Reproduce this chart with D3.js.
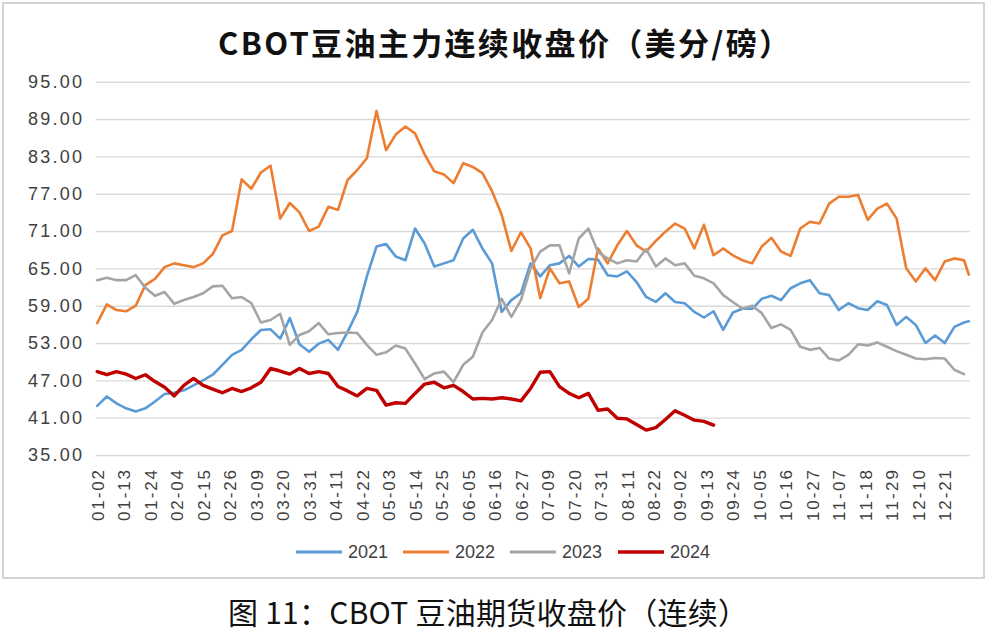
<!DOCTYPE html>
<html><head><meta charset="utf-8">
<script src="https://cdn.jsdelivr.net/npm/d3@7/dist/d3.min.js"></script>
<style>html,body{margin:0;padding:0;background:#fff;} svg{display:block;}</style>
</head><body>
<svg id="chart" width="992" height="640"></svg>
<script>
// ---------- data ----------
const titleText = "CBOT豆油主力连续收盘价（美分/磅）";
const captionText = "图 11：CBOT 豆油期货收盘价（连续）";
const seriesNames = ["2021", "2022", "2023", "2024"];
const seriesColors = ["#5B9BD5", "#ED7D31", "#A5A5A5", "#C00000"];
const yTicks = [35, 41, 47, 53, 59, 65, 71, 77, 83, 89, 95];
const skippedDay = "07-04";

// category axis: calendar days 01-02 .. 12-31 (07-04 not listed)
const categories = [];
for (let d = new Date(Date.UTC(2023, 0, 2)); d <= new Date(Date.UTC(2023, 11, 31)); d.setUTCDate(d.getUTCDate() + 1)) {
  const s = String(d.getUTCMonth() + 1).padStart(2, "0") + "-" + String(d.getUTCDate()).padStart(2, "0");
  if (s !== skippedDay) categories.push(s);
}
const tickLabels = categories.filter((d, i) => i % 11 === 0);
const sampleDates = categories.filter((d, i) => i % 4 === 0).concat([categories[categories.length - 1]]);

const values2021 = [42.9,44.4,43.3,42.5,42.0,42.5,43.6,44.8,45.0,45.4,
  46.2,47.0,47.9,49.5,51.1,51.9,53.6,55.1,55.2,53.7,
  57.0,52.8,51.6,52.9,53.5,51.9,54.8,58.0,63.7,68.5,
  68.9,66.9,66.3,71.4,69.0,65.3,65.8,66.3,69.8,71.2,
  68.2,65.8,58.0,59.9,61.0,65.8,63.7,65.5,65.8,67.0,
  65.3,66.5,66.4,63.9,63.7,64.5,62.8,60.4,59.6,61.0,
  59.6,59.4,58.0,57.1,58.1,55.1,57.9,58.5,58.5,60.1,
  60.6,59.9,61.8,62.6,63.1,61.0,60.7,58.3,59.4,58.6,
  58.3,59.7,59.1,55.9,57.2,55.9,53.0,54.2,53.0,55.6,
  56.3,56.5];
const values2022 = [56.2,59.2,58.3,58.1,59.0,62.3,63.3,65.2,65.8,65.5,
  65.2,65.8,67.3,70.3,71.0,79.3,77.8,80.4,81.5,73.0,
  75.5,74.0,71.0,71.7,74.9,74.4,79.2,80.8,82.7,90.3,
  84.0,86.5,87.8,86.7,83.3,80.6,80.1,78.7,81.9,81.3,
  80.3,77.4,73.6,67.8,70.8,68.2,60.2,65.0,62.6,62.9,
  58.8,60.1,68.2,65.8,68.7,71.0,68.7,67.7,69.4,70.9,
  72.2,71.4,68.2,72.0,67.1,68.2,67.1,66.3,65.8,68.5,
  69.9,67.7,67.0,71.4,72.5,72.2,75.4,76.5,76.5,76.8,
  72.8,74.6,75.4,73.0,65.0,62.9,65.0,63.1,66.1,66.6,
  66.3,64.0];
const values2023 = [63.1,63.5,63.1,63.1,63.9,61.9,60.6,61.2,59.3,59.9,
  60.4,61.0,62.1,62.2,60.2,60.4,59.4,56.3,56.7,57.7,
  52.7,54.3,54.9,56.2,54.4,54.6,54.7,54.6,52.7,51.1,
  51.5,52.6,52.1,49.7,47.2,48.1,48.4,46.7,49.5,50.8,
  54.7,56.7,60.1,57.2,59.9,65.0,67.7,68.7,68.7,64.2,
  69.8,71.4,67.6,66.6,65.8,66.3,66.1,68.1,65.3,66.6,
  65.5,65.8,63.8,63.4,62.6,60.7,59.6,58.5,59.0,57.8,
  55.4,56.0,55.1,52.4,51.9,52.2,50.5,50.2,51.1,52.8,
  52.6,53.1,52.4,51.7,51.1,50.5,50.4,50.6,50.5,48.7,
  48.0];
const values2024 = [48.4,47.9,48.4,48.0,47.3,47.9,46.8,45.9,44.5,46.2,
  47.3,46.2,45.6,45.0,45.7,45.2,45.8,46.7,48.9,48.5,
  48.0,48.9,48.1,48.4,48.1,46.0,45.3,44.5,45.7,45.4,
  43.0,43.4,43.3,44.9,46.4,46.7,45.8,46.2,45.2,44.0,
  44.1,44.0,44.2,44.0,43.7,45.7,48.3,48.4,46.0,44.9,
  44.2,44.9,42.2,42.4,40.9,40.8,39.9,39.0,39.4,40.7,
  42.1,41.4,40.6,40.4,39.8];
const seriesValues = [values2021, values2022, values2023, values2024];
const seriesWidths = [2.6, 2.6, 2.6, 3.4];

// ---------- layout ----------
const svg = d3.select("#chart");
const plot = {left: 96, right: 970, top: 81.7, bottom: 455};

svg.append("rect").attr("x", 3).attr("y", 3).attr("width", 981).attr("height", 575)
  .attr("fill", "#fff").attr("stroke", "#d4d4d4").attr("stroke-width", 2);

const x = d3.scalePoint().domain(categories).range([plot.left, plot.right]).padding(0.5);
const y = d3.scaleLinear().domain([35, 95]).range([plot.bottom, plot.top]);

// gridlines + y labels
const yAxis = d3.axisLeft(y).tickValues(yTicks).tickSize(-(plot.right - plot.left)).tickFormat(d3.format(".2f")).tickPadding(14);
const gy = svg.append("g").attr("transform", `translate(${plot.left},0)`).call(yAxis);
gy.select(".domain").remove();
gy.selectAll(".tick line").attr("stroke", "#d9d9d9").attr("stroke-width", 1.4);
gy.selectAll(".tick text").attr("fill", "#404040").attr("font-family", "'Liberation Sans', Arial, sans-serif")
  .attr("font-size", 18).attr("textLength", 54).attr("lengthAdjust", "spacing");

// x labels (rotated)
const xAxis = d3.axisBottom(x).tickValues(tickLabels).tickSize(0).tickPadding(0);
const gx = svg.append("g").attr("transform", `translate(0,${plot.bottom})`).call(xAxis);
gx.select(".domain").remove();
gx.selectAll(".tick text")
  .attr("fill", "#404040").attr("font-family", "'Liberation Sans', Arial, sans-serif").attr("font-size", 17)
  .attr("transform", "rotate(-90)").attr("text-anchor", "end").attr("dy", "0.36em").attr("x", -15).attr("y", 0)
  .attr("textLength", 51).attr("lengthAdjust", "spacing");

// lines
const line = d3.line().x(d => x(d[0])).y(d => y(d[1])).curve(d3.curveLinear);
seriesValues.forEach((vals, i) => {
  const pts = vals.map((v, j) => [sampleDates[j], v]);
  svg.append("path").datum(pts).attr("d", line).attr("fill", "none")
    .attr("stroke", seriesColors[i]).attr("stroke-width", seriesWidths[i])
    .attr("stroke-linejoin", "round").attr("stroke-linecap", "round");
});

// legend
const legendX = [296, 403, 510, 618];
const legend = svg.append("g");
seriesNames.forEach((n, i) => {
  legend.append("line").attr("x1", legendX[i]).attr("x2", legendX[i] + 46).attr("y1", 552).attr("y2", 552)
    .attr("stroke", seriesColors[i]).attr("stroke-width", i === 3 ? 3.6 : 2.8);
  legend.append("text").attr("x", legendX[i] + 52).attr("y", 552).attr("dy", "0.36em")
    .attr("fill", "#404040").attr("font-family", "'Liberation Sans', Arial, sans-serif").attr("font-size", 18)
    .text(n);
});

// title & caption
function fitText(sel, target) {
  const w = sel.node().getComputedTextLength();
  const n = sel.text().length;
  sel.attr("letter-spacing", ((target - w) / (n - 1)) + "px");
}
const t = svg.append("text").attr("x", 218).attr("y", 55)
  .attr("font-family", "'Noto Sans CJK SC', sans-serif").attr("font-weight", "bold").attr("font-size", 31)
  .attr("fill", "#111").text(titleText);
fitText(t, 572);

const c = svg.append("text").attr("x", 228).attr("y", 624)
  .attr("font-family", "'Noto Sans CJK SC', sans-serif").attr("font-size", 30)
  .attr("fill", "#111").text(captionText);
fitText(c, 520);
</script>
</body></html>
